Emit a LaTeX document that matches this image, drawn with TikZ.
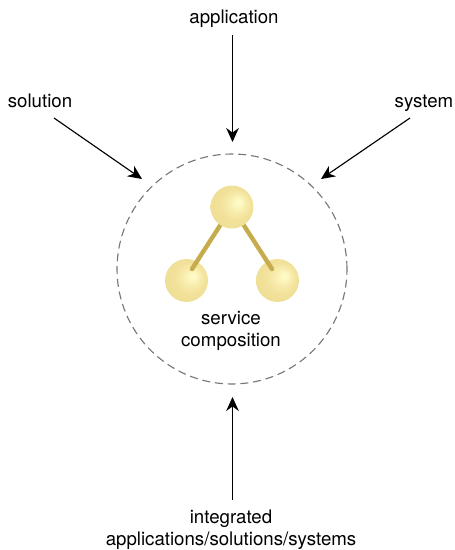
\documentclass[tikz,border=0pt]{standalone}
\usepackage{fontspec}
\setmainfont{TeX Gyre Heros}
\usetikzlibrary{arrows.meta}
\definecolor{rodc}{HTML}{C6AC4C}
\definecolor{ringc}{HTML}{777777}
\definecolor{ballA}{HTML}{FDFAC6}
\definecolor{ballB}{HTML}{F9EEB0}
\definecolor{ballC}{HTML}{F1E19A}
\definecolor{ballD}{HTML}{EEDD92}
\pgfdeclareradialshading{ballshade}{\pgfpoint{0.3cm}{0.22cm}}{%
  color(0cm)=(ballA);
  color(0.1cm)=(ballA);
  color(0.32cm)=(ballB);
  color(0.65cm)=(ballC);
  color(1.2cm)=(ballD)}
\tikzset{x=0.75pt,y=-0.75pt,
  ball/.style={circle,minimum size=32.2pt,inner sep=0pt,shading=ballshade},
  rod/.style={rodc,line width=3.3pt,line cap=round},
  arr/.style={-{Stealth[length=10.5pt,width=9.5pt]},line width=0.85pt},
  lab/.style={font=\fontsize{14}{16.5}\selectfont,align=center,inner sep=0pt}}
\begin{document}
\begin{tikzpicture}
\useasboundingbox (0,0) rectangle (454,550);
\node[circle,draw=ringc,dash pattern=on 6pt off 3.6pt,line width=0.85pt,minimum size=172.5pt,inner sep=0pt] (ring) at (232,269) {};
\node[ball] (left) at (186.5,280.5) {};
\node[ball] (right) at (277.5,280.5) {};
\coordinate (leftend) at (192,269);
\coordinate (rightend) at (272,269);
\coordinate (topc) at (232,207);
\draw[rod] (topc) -- (leftend);
\draw[rod] (topc) -- (rightend);
\node[ball] (top) at (topc) {};
\node[lab] (service) at (231,331) {service\\composition};
\node[lab] (application) at (234,19) {application};
\node[lab] (solution) at (40,101) {solution};
\node[lab] (system) at (424,103) {system};
\node[lab] (integrated) at (231,530) {integrated\\applications/solutions/systems};
\coordinate (a1) at (232.5,35); \coordinate (a2) at (232.5,142);
\coordinate (b1) at (54,118); \coordinate (b2) at (142,179);
\coordinate (c1) at (410,118); \coordinate (c2) at (321,179);
\coordinate (d1) at (232.5,500); \coordinate (d2) at (232.5,397);
\draw[arr] (a1) -- (a2);
\draw[arr] (b1) -- (b2);
\draw[arr] (c1) -- (c2);
\draw[arr] (d1) -- (d2);
\end{tikzpicture}
\end{document}
